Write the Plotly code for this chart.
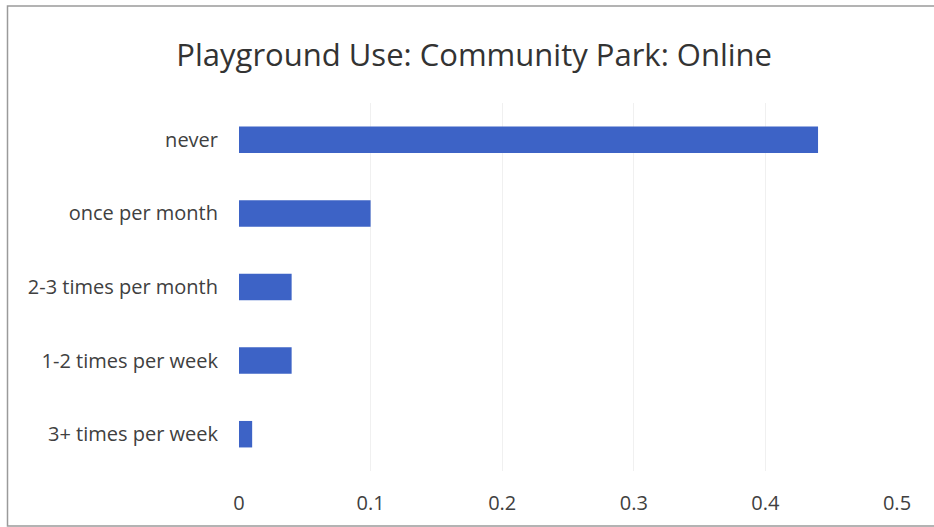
import plotly.graph_objects as go

# Share of online respondents by playground visit frequency
categories = ["never", "once per month", "2-3 times per month",
              "1-2 times per week", "3+ times per week"]
values = [0.44, 0.10, 0.04, 0.04, 0.01]
x_ticks = [0, 0.1, 0.2, 0.3, 0.4, 0.5]
x_tick_labels = ["0", "0.1", "0.2", "0.3", "0.4", "0.5"]

W, H = 934, 527
L, R, T, B = 239, 37, 103, 56
pw, ph = W - L - R, H - T - B


def px_to_paper_x(px):
    return (px - L) / pw


def px_to_paper_y(py):
    return (H - B - py) / ph


fig = go.Figure(
    go.Bar(
        x=values,
        y=categories,
        orientation="h",
        width=0.36,
        marker=dict(color="#3d63c6", line=dict(width=0)),
        hoverinfo="x+y",
    )
)

fig.update_layout(
    width=W,
    height=H,
    margin=dict(l=L, r=R, t=T, b=B),
    paper_bgcolor="white",
    plot_bgcolor="white",
    showlegend=False,
    font=dict(family="Open Sans, Noto Sans, sans-serif", color="#404040"),
    title=dict(
        text="Playground Use: Community Park: Online",
        x=0.5077,
        xanchor="center",
        y=1 - 55 / H,
        yanchor="middle",
        font=dict(size=31, color="#333333"),
    ),
    xaxis=dict(
        range=[0, 0.5],
        tickvals=x_ticks,
        ticktext=x_tick_labels,
        showgrid=True,
        gridcolor="#f0f0f0",
        gridwidth=1,
        zeroline=False,
        showline=False,
        ticks="",
        ticklabelstandoff=18,
        tickfont=dict(size=20, color="#404040"),
    ),
    yaxis=dict(
        categoryorder="array",
        categoryarray=categories[::-1],
        showgrid=False,
        zeroline=False,
        showline=False,
        ticks="",
        ticklabelstandoff=20,
        tickfont=dict(size=20, color="#404040"),
    ),
)

# Outer chart frame (right edge runs off the page)
fig.add_shape(
    type="rect",
    xref="paper",
    yref="paper",
    x0=px_to_paper_x(7.5),
    x1=px_to_paper_x(940),
    y0=px_to_paper_y(526),
    y1=px_to_paper_y(6),
    line=dict(color="#9a9a9a", width=1.5),
    fillcolor="rgba(0,0,0,0)",
    layer="below",
)

fig.write_html("out.html")
